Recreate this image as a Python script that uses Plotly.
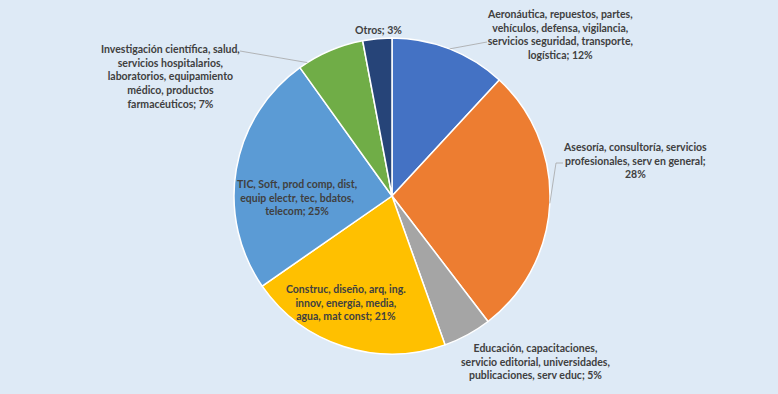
import math
import plotly.graph_objects as go

# Sector shares (%) going clockwise from 12 o'clock
categories = [
    "Aeronáutica, repuestos, partes,<br>vehículos, defensa, vigilancia,<br>servicios seguridad, transporte,<br>logística",
    "Asesoría, consultoría, servicios<br>profesionales, serv en general",
    "Educación, capacitaciones,<br>servicio editorial, universidades,<br>publicaciones, serv educ",
    "Construc, diseño, arq, ing.<br>innov, energía, media,<br>agua, mat const",
    "TIC, Soft, prod comp, dist,<br>equip electr, tec, bdatos,<br>telecom",
    "Investigación científica, salud,<br>servicios hospitalarios,<br>laboratorios, equipamiento<br>médico, productos<br>farmacéuticos",
    "Otros",
]
values = [12, 28, 5, 21, 25, 7, 3]
separators = ["; ", ";<br>", "; ", "; ", "; ", "; ", "; "]
colors = ["#4472C4", "#ED7D31", "#A5A5A5", "#FFC000", "#5B9BD5", "#70AD47", "#264478"]

W, H = 778, 394
CX, CY, R = 392, 196, 158  # pie centre and radius in pixels

# label centres (px) and optional leader lines: (fraction within slice, bend points)
label_xy = [(560, 34), (635, 160), (535, 361), (346, 302), (297, 198), (170, 76), (378, 30)]
leaders = {
    0: (0.5, [(487, 42)]),
    1: (0.5, [(556, 163), (563, 163)]),
    5: (0.13, [(240, 51)]),
}


def px(x):
    return x / W


def py(y):
    return 1 - y / H


total = sum(values)
edges = [0]
for v in values:
    edges.append(edges[-1] + v)

fig = go.Figure(
    go.Pie(
        labels=[c.replace("<br>", " ") for c in categories],
        values=values,
        sort=False,
        direction="clockwise",
        rotation=0,
        textinfo="none",
        hoverinfo="label+percent",
        marker=dict(colors=colors, line=dict(color="white", width=1.5)),
        domain=dict(
            x=[px(CX - R), px(CX + R)],
            y=[py(CY + R), py(CY - R)],
        ),
        showlegend=False,
    )
)

font = dict(family="Lato", size=10.5, color="#404040", weight="bold")
for i, (cat, v) in enumerate(zip(categories, values)):
    x, y = label_xy[i]
    fig.add_annotation(
        x=px(x), y=py(y), xref="paper", yref="paper",
        text=f"{cat}{separators[i]}{v}%",
        showarrow=False, xanchor="center", yanchor="middle", align="center",
        font=font,
    )

for i, (frac, bends) in leaders.items():
    ang = 2 * math.pi * (edges[i] + frac * values[i]) / total
    pts = [(CX + R * math.sin(ang), CY - R * math.cos(ang))] + bends
    for (x0, y0), (x1, y1) in zip(pts[:-1], pts[1:]):
        fig.add_shape(
            type="line", xref="paper", yref="paper",
            x0=px(x0), y0=py(y0), x1=px(x1), y1=py(y1),
            line=dict(color="#A6A6A6", width=0.8),
        )

fig.update_layout(
    width=W, height=H,
    margin=dict(l=0, r=0, t=0, b=0),
    paper_bgcolor="#DEEAF6",
    plot_bgcolor="#DEEAF6",
)

fig.write_html("out.html")
